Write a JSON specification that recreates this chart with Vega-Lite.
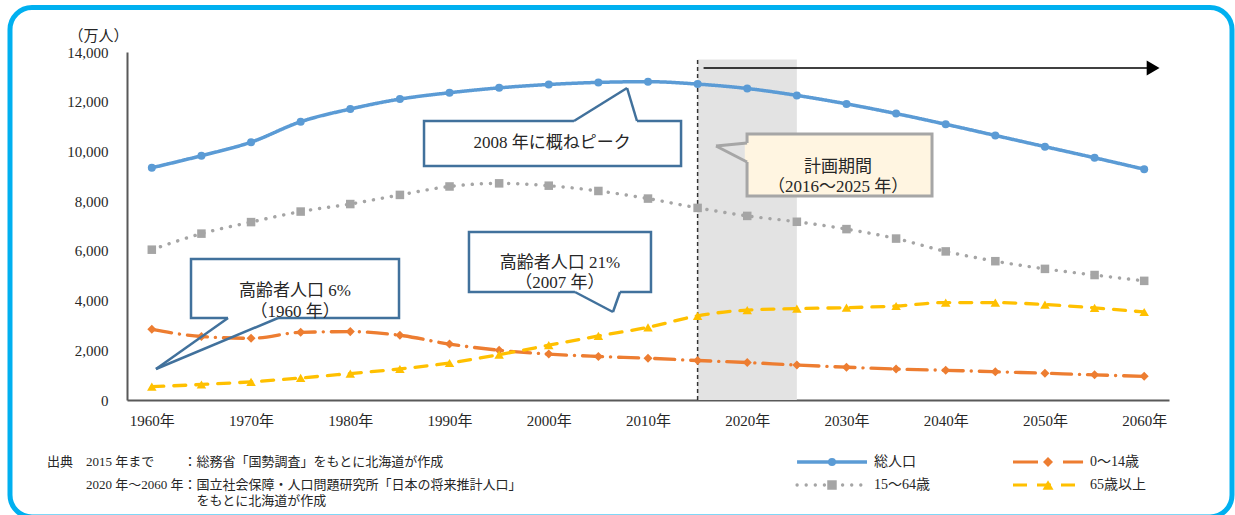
{
  "$schema": "https://vega.github.io/schema/vega-lite/v6.json",
  "width": 1042,
  "height": 348,
  "autosize": {"type": "none"},
  "padding": {"left": 127, "top": 52, "right": 66, "bottom": 115},
  "background": "white",
  "config": {
    "view": {"stroke": null},
    "font": "'Liberation Serif', 'Noto Sans CJK JP', serif",
    "axis": {"grid": false, "ticks": false, "tickSize": 0, "domainColor": "#595959", "domainWidth": 2, "labelFontSize": 15, "labelColor": "#262626", "labelFlush": false, "labelOverlap": false},
    "text": {"color": "#262626"}
  },
  "title": {
    "text": ["出典\u30002015 年まで\u3000\u3000 ：総務省「国勢調査」をもとに北海道が作成", "\u200B\u3000\u3000\u30002020 年～2060 年：国立社会保障・人口問題研究所「日本の将来推計人口」"],
    "subtitle": "\u200B\u3000\u3000\u3000\u3000\u3000\u3000\u3000\u3000\u3000\u3000\u3000\u2005\u2005をもとに北海道が作成",
    "orient": "bottom",
    "anchor": "start",
    "frame": "group",
    "dx": -80,
    "offset": -64,
    "fontSize": 13,
    "fontWeight": "normal",
    "lineHeight": 23,
    "color": "#262626",
    "subtitleFontSize": 13,
    "subtitleColor": "#262626",
    "subtitlePadding": 3,
    "subtitleFont": "'Liberation Serif', 'Noto Sans CJK JP', serif"
  },
  "data": {"values": [
    {"year": 1960, "series": "総人口", "value": 9342},
    {"year": 1965, "series": "総人口", "value": 9828},
    {"year": 1970, "series": "総人口", "value": 10372},
    {"year": 1975, "series": "総人口", "value": 11194},
    {"year": 1980, "series": "総人口", "value": 11706},
    {"year": 1985, "series": "総人口", "value": 12105},
    {"year": 1990, "series": "総人口", "value": 12361},
    {"year": 1995, "series": "総人口", "value": 12557},
    {"year": 2000, "series": "総人口", "value": 12693},
    {"year": 2005, "series": "総人口", "value": 12777},
    {"year": 2010, "series": "総人口", "value": 12806},
    {"year": 2015, "series": "総人口", "value": 12709},
    {"year": 2020, "series": "総人口", "value": 12532},
    {"year": 2025, "series": "総人口", "value": 12254},
    {"year": 2030, "series": "総人口", "value": 11913},
    {"year": 2035, "series": "総人口", "value": 11522},
    {"year": 2040, "series": "総人口", "value": 11092},
    {"year": 2045, "series": "総人口", "value": 10642},
    {"year": 2050, "series": "総人口", "value": 10192},
    {"year": 2055, "series": "総人口", "value": 9744},
    {"year": 2060, "series": "総人口", "value": 9284},
    {"year": 1960, "series": "15～64歳", "value": 6047},
    {"year": 1965, "series": "15～64歳", "value": 6693},
    {"year": 1970, "series": "15～64歳", "value": 7157},
    {"year": 1975, "series": "15～64歳", "value": 7581},
    {"year": 1980, "series": "15～64歳", "value": 7883},
    {"year": 1985, "series": "15～64歳", "value": 8251},
    {"year": 1990, "series": "15～64歳", "value": 8590},
    {"year": 1995, "series": "15～64歳", "value": 8716},
    {"year": 2000, "series": "15～64歳", "value": 8622},
    {"year": 2005, "series": "15～64歳", "value": 8409},
    {"year": 2010, "series": "15～64歳", "value": 8103},
    {"year": 2015, "series": "15～64歳", "value": 7728},
    {"year": 2020, "series": "15～64歳", "value": 7406},
    {"year": 2025, "series": "15～64歳", "value": 7170},
    {"year": 2030, "series": "15～64歳", "value": 6875},
    {"year": 2035, "series": "15～64歳", "value": 6494},
    {"year": 2040, "series": "15～64歳", "value": 5978},
    {"year": 2045, "series": "15～64歳", "value": 5584},
    {"year": 2050, "series": "15～64歳", "value": 5275},
    {"year": 2055, "series": "15～64歳", "value": 5028},
    {"year": 2060, "series": "15～64歳", "value": 4793},
    {"year": 1960, "series": "0～14歳", "value": 2843},
    {"year": 1965, "series": "0～14歳", "value": 2553},
    {"year": 1970, "series": "0～14歳", "value": 2482},
    {"year": 1975, "series": "0～14歳", "value": 2722},
    {"year": 1980, "series": "0～14歳", "value": 2751},
    {"year": 1985, "series": "0～14歳", "value": 2603},
    {"year": 1990, "series": "0～14歳", "value": 2249},
    {"year": 1995, "series": "0～14歳", "value": 2001},
    {"year": 2000, "series": "0～14歳", "value": 1847},
    {"year": 2005, "series": "0～14歳", "value": 1752},
    {"year": 2010, "series": "0～14歳", "value": 1680},
    {"year": 2015, "series": "0～14歳", "value": 1589},
    {"year": 2020, "series": "0～14歳", "value": 1507},
    {"year": 2025, "series": "0～14歳", "value": 1407},
    {"year": 2030, "series": "0～14歳", "value": 1321},
    {"year": 2035, "series": "0～14歳", "value": 1246},
    {"year": 2040, "series": "0～14歳", "value": 1194},
    {"year": 2045, "series": "0～14歳", "value": 1138},
    {"year": 2050, "series": "0～14歳", "value": 1077},
    {"year": 2055, "series": "0～14歳", "value": 1012},
    {"year": 2060, "series": "0～14歳", "value": 951},
    {"year": 1960, "series": "65歳以上", "value": 535},
    {"year": 1965, "series": "65歳以上", "value": 624},
    {"year": 1970, "series": "65歳以上", "value": 733},
    {"year": 1975, "series": "65歳以上", "value": 887},
    {"year": 1980, "series": "65歳以上", "value": 1065},
    {"year": 1985, "series": "65歳以上", "value": 1247},
    {"year": 1990, "series": "65歳以上", "value": 1489},
    {"year": 1995, "series": "65歳以上", "value": 1826},
    {"year": 2000, "series": "65歳以上", "value": 2204},
    {"year": 2005, "series": "65歳以上", "value": 2576},
    {"year": 2010, "series": "65歳以上", "value": 2925},
    {"year": 2015, "series": "65歳以上", "value": 3387},
    {"year": 2020, "series": "65歳以上", "value": 3619},
    {"year": 2025, "series": "65歳以上", "value": 3677},
    {"year": 2030, "series": "65歳以上", "value": 3716},
    {"year": 2035, "series": "65歳以上", "value": 3782},
    {"year": 2040, "series": "65歳以上", "value": 3921},
    {"year": 2045, "series": "65歳以上", "value": 3919},
    {"year": 2050, "series": "65歳以上", "value": 3841},
    {"year": 2055, "series": "65歳以上", "value": 3704},
    {"year": 2060, "series": "65歳以上", "value": 3540}
  ]},
  "layer": [
    {
      "data": {"values": [{}]},
      "layer": [
        {
          "mark": {"type": "rect", "fill": "#E3E3E3"},
          "encoding": {
            "x": {"datum": 2015, "type": "quantitative"},
            "x2": {"datum": 2025},
            "y": {"datum": 0, "type": "quantitative"},
            "y2": {"datum": 13700}
          }
        },
        {
          "mark": {"type": "rule", "stroke": "#333333", "strokeWidth": 1.5, "strokeDash": [4, 3]},
          "encoding": {
            "x": {"datum": 2015, "type": "quantitative"},
            "y": {"datum": 0, "type": "quantitative"},
            "y2": {"datum": 13760}
          }
        }
      ]
    },
    {
      "mark": {"type": "line", "interpolate": "monotone", "strokeCap": "round"},
      "encoding": {
        "x": {
          "field": "year", "type": "quantitative",
          "scale": {"domain": [1957.5, 2062.5], "nice": false, "zero": false},
          "axis": {"values": [1960, 1970, 1980, 1990, 2000, 2010, 2020, 2030, 2040, 2050, 2060], "labelExpr": "datum.value + '年'", "title": null, "labelPadding": 13}
        },
        "y": {
          "field": "value", "type": "quantitative",
          "scale": {"domain": [0, 14000], "nice": false},
          "axis": {"values": [0, 2000, 4000, 6000, 8000, 10000, 12000, 14000], "format": ",d", "labelPadding": 19, "title": "（万人）", "titleAngle": 0, "titleAlign": "center", "titleBaseline": "middle", "titleX": -29, "titleY": -17, "titleFontSize": 15, "titleFontWeight": "normal", "titleColor": "#262626"}
        },
        "color": {
          "field": "series", "type": "nominal",
          "scale": {"domain": ["総人口", "15～64歳", "0～14歳", "65歳以上"], "range": ["#5B9BD5", "#A5A5A5", "#ED7D31", "#FFC000"]},
          "legend": null
        },
        "strokeDash": {
          "field": "series", "type": "nominal",
          "scale": {"domain": ["総人口", "15～64歳", "0～14歳", "65歳以上"], "range": [[1, 0], [0.1, 9], [20, 8, 0.1, 8], [12, 10]]},
          "legend": null
        },
        "strokeWidth": {
          "field": "series", "type": "nominal",
          "scale": {"domain": ["総人口", "15～64歳", "0～14歳", "65歳以上"], "range": [3.5, 3.3, 3, 3]},
          "legend": null
        }
      }
    },
    {
      "mark": {"type": "point", "filled": true, "opacity": 1},
      "encoding": {
        "x": {"field": "year", "type": "quantitative"},
        "y": {"field": "value", "type": "quantitative"},
        "fill": {
          "field": "series", "type": "nominal",
          "scale": {"domain": ["総人口", "15～64歳", "0～14歳", "65歳以上"], "range": ["#5B9BD5", "#A5A5A5", "#ED7D31", "#FFC000"]},
          "legend": null
        },
        "shape": {
          "field": "series", "type": "nominal",
          "scale": {"domain": ["総人口", "15～64歳", "0～14歳", "65歳以上"], "range": ["circle", "square", "diamond", "triangle-up"]},
          "legend": null
        },
        "size": {
          "field": "series", "type": "nominal",
          "scale": {"domain": ["総人口", "15～64歳", "0～14歳", "65歳以上"], "range": [64, 90, 100, 120]},
          "legend": null
        }
      }
    },
    {
      "data": {"values": [{}]},
      "layer": [
        {
          "mark": {"type": "rule", "stroke": "#000000", "strokeWidth": 1.5},
          "encoding": {"x": {"datum": 2015.6, "type": "quantitative"}, "x2": {"datum": 2060.6}, "y": {"datum": 13356, "type": "quantitative"}}
        },
        {
          "mark": {"type": "point", "shape": "triangle-right", "filled": true, "fill": "#000000", "opacity": 1, "size": 220},
          "encoding": {"x": {"datum": 2060.9, "type": "quantitative"}, "y": {"datum": 13356, "type": "quantitative"}}
        },

        {
          "mark": {"type": "rect", "fill": "white", "stroke": "#41719C", "strokeWidth": 2.5},
          "encoding": {"x": {"datum": 1963.95, "type": "quantitative"}, "x2": {"datum": 1984.91}, "y": {"datum": 3299, "type": "quantitative"}, "y2": {"datum": 5672}}
        },
        {
          "mark": {"type": "rule", "stroke": "white", "strokeWidth": 4},
          "encoding": {"x": {"datum": 1967.68, "type": "quantitative"}, "x2": {"datum": 1972.72}, "y": {"datum": 3299, "type": "quantitative"}}
        },
        {
          "mark": {"type": "rule", "stroke": "#41719C", "strokeWidth": 2.5},
          "encoding": {"x": {"datum": 1967.68, "type": "quantitative"}, "y": {"datum": 3299, "type": "quantitative"}, "x2": {"datum": 1960.42}, "y2": {"datum": 1247}}
        },
        {
          "mark": {"type": "rule", "stroke": "#41719C", "strokeWidth": 2.5},
          "encoding": {"x": {"datum": 1972.72, "type": "quantitative"}, "y": {"datum": 3299, "type": "quantitative"}, "x2": {"datum": 1960.42}, "y2": {"datum": 1247}}
        },
        {
          "mark": {"type": "text", "text": ["高齢者人口 6%", "（1960 年）"], "fontSize": 17, "lineHeight": 21, "align": "center", "baseline": "middle"},
          "encoding": {"x": {"datum": 1974.43, "type": "quantitative"}, "y": {"datum": 4365, "type": "quantitative"}}
        },

        {
          "mark": {"type": "rect", "fill": "white", "stroke": "#41719C", "strokeWidth": 2.5},
          "encoding": {"x": {"datum": 1987.43, "type": "quantitative"}, "x2": {"datum": 2013.33}, "y": {"datum": 9414, "type": "quantitative"}, "y2": {"datum": 11224}}
        },
        {
          "mark": {"type": "rule", "stroke": "white", "strokeWidth": 4},
          "encoding": {"x": {"datum": 2002.54, "type": "quantitative"}, "x2": {"datum": 2008.89}, "y": {"datum": 11224, "type": "quantitative"}}
        },
        {
          "mark": {"type": "rule", "stroke": "#41719C", "strokeWidth": 2.5},
          "encoding": {"x": {"datum": 2002.54, "type": "quantitative"}, "y": {"datum": 11224, "type": "quantitative"}, "x2": {"datum": 2007.89}, "y2": {"datum": 12552}}
        },
        {
          "mark": {"type": "rule", "stroke": "#41719C", "strokeWidth": 2.5},
          "encoding": {"x": {"datum": 2008.89, "type": "quantitative"}, "y": {"datum": 11224, "type": "quantitative"}, "x2": {"datum": 2007.89}, "y2": {"datum": 12552}}
        },
        {
          "mark": {"type": "text", "text": "2008 年に概ねピーク", "fontSize": 17, "align": "center", "baseline": "middle"},
          "encoding": {"x": {"datum": 2000.33, "type": "quantitative"}, "y": {"datum": 10339, "type": "quantitative"}}
        },

        {
          "mark": {"type": "rect", "fill": "white", "stroke": "#41719C", "strokeWidth": 2.5},
          "encoding": {"x": {"datum": 1991.96, "type": "quantitative"}, "x2": {"datum": 2010.3}, "y": {"datum": 4345, "type": "quantitative"}, "y2": {"datum": 6759}}
        },
        {
          "mark": {"type": "rule", "stroke": "white", "strokeWidth": 4},
          "encoding": {"x": {"datum": 2002.64, "type": "quantitative"}, "x2": {"datum": 2007.18}, "y": {"datum": 4345, "type": "quantitative"}}
        },
        {
          "mark": {"type": "rule", "stroke": "#41719C", "strokeWidth": 2.5},
          "encoding": {"x": {"datum": 2002.64, "type": "quantitative"}, "y": {"datum": 4345, "type": "quantitative"}, "x2": {"datum": 2006.47}, "y2": {"datum": 3540}}
        },
        {
          "mark": {"type": "rule", "stroke": "#41719C", "strokeWidth": 2.5},
          "encoding": {"x": {"datum": 2007.18, "type": "quantitative"}, "y": {"datum": 4345, "type": "quantitative"}, "x2": {"datum": 2006.47}, "y2": {"datum": 3540}}
        },
        {
          "mark": {"type": "text", "text": ["高齢者人口 21%", "（2007 年）"], "fontSize": 17, "lineHeight": 20, "align": "center", "baseline": "middle"},
          "encoding": {"x": {"datum": 2001.13, "type": "quantitative"}, "y": {"datum": 5512, "type": "quantitative"}}
        },

        {
          "mark": {"type": "rect", "fill": "#FFF5E1", "stroke": "#A6A6A6", "strokeWidth": 3},
          "encoding": {"x": {"datum": 2019.98, "type": "quantitative"}, "x2": {"datum": 2038.62}, "y": {"datum": 8207, "type": "quantitative"}, "y2": {"datum": 10701}}
        },
        {
          "mark": {"type": "rule", "stroke": "#FFF5E1", "strokeWidth": 4.5},
          "encoding": {"x": {"datum": 2019.98, "type": "quantitative"}, "y": {"datum": 9575, "type": "quantitative"}, "y2": {"datum": 10339}}
        },
        {
          "mark": {"type": "rule", "stroke": "#A6A6A6", "strokeWidth": 3},
          "encoding": {"x": {"datum": 2019.98, "type": "quantitative"}, "y": {"datum": 10339, "type": "quantitative"}, "x2": {"datum": 2016.85}, "y2": {"datum": 10218}}
        },
        {
          "mark": {"type": "rule", "stroke": "#A6A6A6", "strokeWidth": 3},
          "encoding": {"x": {"datum": 2019.98, "type": "quantitative"}, "y": {"datum": 9575, "type": "quantitative"}, "x2": {"datum": 2016.85}, "y2": {"datum": 10218}}
        },
        {
          "mark": {"type": "text", "text": ["計画期間", "（2016～2025 年）"], "fontSize": 17, "lineHeight": 20, "align": "center", "baseline": "middle"},
          "encoding": {"x": {"datum": 2029.15, "type": "quantitative"}, "y": {"datum": 9374, "type": "quantitative"}}
        },

        {
          "mark": {"type": "rule", "stroke": "#5B9BD5", "strokeWidth": 3.5},
          "encoding": {"x": {"datum": 2025.02, "type": "quantitative"}, "x2": {"datum": 2032.07}, "y": {"datum": -2494, "type": "quantitative"}}
        },
        {
          "mark": {"type": "point", "shape": "circle", "filled": true, "fill": "#5B9BD5", "opacity": 1, "size": 64},
          "encoding": {"x": {"datum": 2028.54, "type": "quantitative"}, "y": {"datum": -2494, "type": "quantitative"}}
        },
        {
          "mark": {"type": "text", "text": "総人口", "fontSize": 14, "align": "left", "baseline": "middle"},
          "encoding": {"x": {"datum": 2032.78, "type": "quantitative"}, "y": {"datum": -2494, "type": "quantitative"}}
        },
        {
          "mark": {"type": "rule", "stroke": "#A5A5A5", "strokeWidth": 3.3, "strokeDash": [0.1, 9], "strokeCap": "round"},
          "encoding": {"x": {"datum": 2025.02, "type": "quantitative"}, "x2": {"datum": 2032.07}, "y": {"datum": -3420, "type": "quantitative"}}
        },
        {
          "mark": {"type": "point", "shape": "square", "filled": true, "fill": "#A5A5A5", "opacity": 1, "size": 90},
          "encoding": {"x": {"datum": 2028.54, "type": "quantitative"}, "y": {"datum": -3420, "type": "quantitative"}}
        },
        {
          "mark": {"type": "text", "text": "15～64歳", "fontSize": 14, "align": "left", "baseline": "middle"},
          "encoding": {"x": {"datum": 2032.78, "type": "quantitative"}, "y": {"datum": -3420, "type": "quantitative"}}
        },
        {
          "mark": {"type": "rule", "stroke": "#ED7D31", "strokeWidth": 3, "strokeDash": [25, 25]},
          "encoding": {"x": {"datum": 2046.78, "type": "quantitative"}, "x2": {"datum": 2053.84}, "y": {"datum": -2494, "type": "quantitative"}}
        },
        {
          "mark": {"type": "point", "shape": "diamond", "filled": true, "fill": "#ED7D31", "opacity": 1, "size": 100},
          "encoding": {"x": {"datum": 2050.31, "type": "quantitative"}, "y": {"datum": -2494, "type": "quantitative"}}
        },
        {
          "mark": {"type": "text", "text": "0～14歳", "fontSize": 14, "align": "left", "baseline": "middle"},
          "encoding": {"x": {"datum": 2054.54, "type": "quantitative"}, "y": {"datum": -2494, "type": "quantitative"}}
        },
        {
          "mark": {"type": "rule", "stroke": "#FFC000", "strokeWidth": 3, "strokeDash": [14, 10]},
          "encoding": {"x": {"datum": 2046.78, "type": "quantitative"}, "x2": {"datum": 2053.84}, "y": {"datum": -3420, "type": "quantitative"}}
        },
        {
          "mark": {"type": "point", "shape": "triangle-up", "filled": true, "fill": "#FFC000", "opacity": 1, "size": 120},
          "encoding": {"x": {"datum": 2050.31, "type": "quantitative"}, "y": {"datum": -3420, "type": "quantitative"}}
        },
        {
          "mark": {"type": "text", "text": "65歳以上", "fontSize": 14, "align": "left", "baseline": "middle"},
          "encoding": {"x": {"datum": 2054.54, "type": "quantitative"}, "y": {"datum": -3420, "type": "quantitative"}}
        },

        {
          "mark": {"type": "rect", "filled": false, "stroke": "#00B0F0", "strokeWidth": 5, "cornerRadius": 22},
          "encoding": {"x": {"datum": 1945.71, "type": "quantitative"}, "x2": {"datum": 2068.85}, "y": {"datum": 15790, "type": "quantitative"}, "y2": {"datum": -4707}}
        }
      ]
    }
  ]
}
